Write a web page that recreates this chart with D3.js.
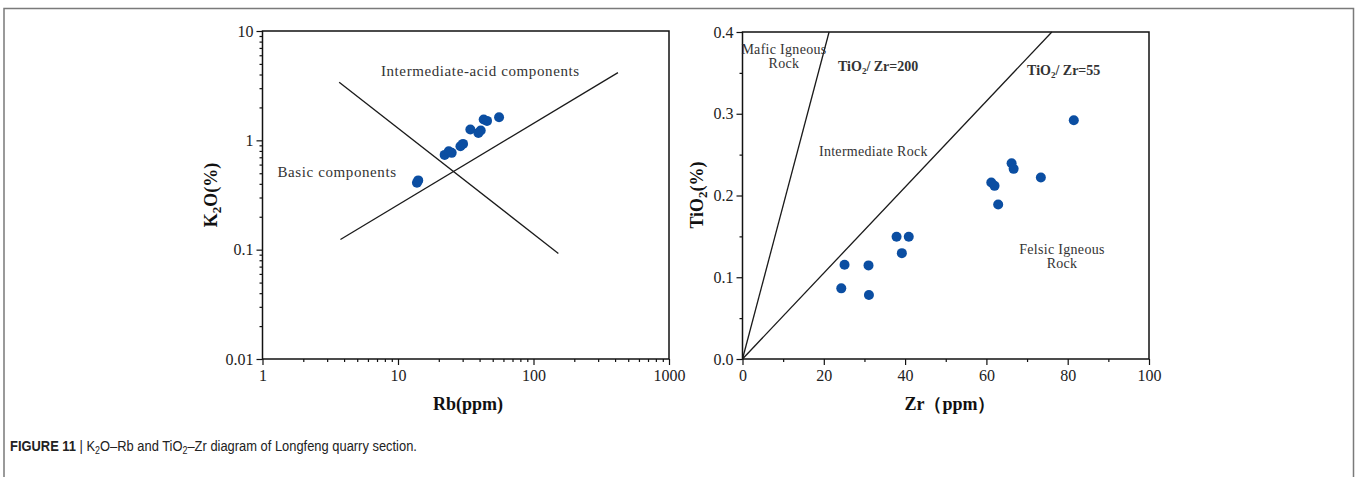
<!DOCTYPE html>
<html>
<head>
<meta charset="utf-8">
<script src="https://cdn.jsdelivr.net/npm/d3@7"></script>
<style>
  body { margin: 0; background: #fff; }
  svg { display: block; }
  .tick text { font-family: "Liberation Serif", serif; font-size: 16px; fill: #222; }
  .tick line { stroke: #111; stroke-width: 1.2; }
  .note { font-family: "Liberation Serif", serif; fill: #333; }
  .atitle { font-family: "Liberation Serif", serif; font-weight: bold; font-size: 18px; fill: #111; }
</style>
</head>
<body>
<svg id="fig" width="1355" height="477"></svg>
<script>
// K2O - Rb (left panel)
var rbValues  = [13.8, 14.1, 22.1, 23.7, 24.9, 28.9, 30.2, 34.2, 39.2, 40.8, 42.9, 45.4, 55.7]
var k2oValues = [0.41, 0.43, 0.736, 0.795, 0.768, 0.883, 0.928, 1.254, 1.17, 1.228, 1.55, 1.506, 1.627]
// discrimination lines, endpoints
var rbLineA = [[3.68, 3.40], [152.6, 0.0923]]
var rbLineB = [[3.76, 0.124], [420, 4.16]]
var rbTicks  = [1, 10, 100, 1000]
var k2oTicks = [0.01, 0.1, 1, 10]

// TiO2 - Zr (right panel)
var zrValues   = [81.5, 66.2, 66.7, 73.4, 61.2, 62.0, 62.9, 37.9, 40.9, 39.2, 25.1, 31.0, 24.3, 31.1]
var tio2Values = [0.292, 0.2395, 0.2326, 0.222, 0.216, 0.2118, 0.189, 0.1495, 0.1495, 0.1295, 0.1153, 0.1145, 0.0864, 0.0782]
var zrLine200 = [[0, 0], [21.3, 0.4]]
var zrLine55  = [[0, 0], [76.1, 0.4]]
var zrTicks   = [0, 20, 40, 60, 80, 100]
var tio2Ticks = [0.0, 0.1, 0.2, 0.3, 0.4]

const dotColor = "#0b4ea2"
const svg = d3.select("#fig")

// outer figure frame (open at the bottom)
svg.append("path")
    .attr("d", "M4,477 V8.5 H1353.5 V477")
    .attr("fill", "none")
    .attr("stroke", "#7a7a7a")
    .attr("stroke-width", 1.5)

// ---------- left panel ----------
const x1 = d3.scaleLog().domain([1, 1000]).range([262.5, 669])
const y1 = d3.scaleLog().domain([0.01, 10]).range([359, 31])

// minor log ticks 2..9 per decade
var minorRb = [], minorK = []
rbTicks.slice(0, -1).forEach(t => { for (var i = 2; i < 10; i++) minorRb.push(t * i) })
k2oTicks.slice(0, -1).forEach(t => { for (var i = 2; i < 10; i++) minorK.push(t * i) })

var g1 = svg.append("g")
g1.append("g").attr("transform", "translate(0,359)")
    .call(d3.axisBottom(x1).tickValues(minorRb).tickSize(3).tickFormat(""))
g1.append("g").attr("transform", "translate(0,359)")
    .call(d3.axisBottom(x1).tickValues(rbTicks).tickSize(6).tickPadding(5).tickFormat(d3.format("d")))
g1.append("g").attr("transform", "translate(262.5,0)")
    .call(d3.axisLeft(y1).tickValues(minorK).tickSize(3).tickFormat(""))
g1.append("g").attr("transform", "translate(262.5,0)")
    .call(d3.axisLeft(y1).tickValues(k2oTicks).tickSize(6).tickPadding(3).tickFormat(d => d >= 1 ? d3.format("d")(d) : String(d)))
g1.selectAll(".domain").remove()

g1.append("rect")
    .attr("x", x1(1)).attr("y", y1(10))
    .attr("width", x1(1000) - x1(1)).attr("height", y1(0.01) - y1(10))
    .attr("fill", "none").attr("stroke", "#111").attr("stroke-width", 1.5)

const line1 = d3.line().x(d => x1(d[0])).y(d => y1(d[1]))
;[rbLineA, rbLineB].forEach(l => {
    g1.append("path").attr("d", line1(l))
        .attr("fill", "none").attr("stroke", "#1a1a1a").attr("stroke-width", 1.3)
})

g1.selectAll("circle").data(rbValues).join("circle")
    .attr("cx", d => x1(d))
    .attr("cy", (d, i) => y1(k2oValues[i]))
    .attr("r", 5)
    .attr("fill", dotColor)

g1.append("text").attr("class", "note")
    .attr("x", x1(7.48)).attr("y", y1(3.9))
    .attr("font-size", 15).attr("letter-spacing", 0.6)
    .text("Intermediate-acid components")
g1.append("text").attr("class", "note")
    .attr("x", x1(1.29)).attr("y", y1(0.46))
    .attr("font-size", 15).attr("letter-spacing", 0.6)
    .text("Basic components")

g1.append("text").attr("class", "atitle")
    .attr("x", 468).attr("y", 410).attr("text-anchor", "middle")
    .text("Rb(ppm)")
var yt1 = g1.append("text").attr("class", "atitle")
    .attr("transform", "translate(217,195) rotate(-90)")
    .attr("text-anchor", "middle")
yt1.append("tspan").text("K")
yt1.append("tspan").attr("font-size", 13).attr("dy", 4).text("2")
yt1.append("tspan").attr("dy", -4).text("O(%)")

// ---------- right panel ----------
const x2 = d3.scaleLinear().domain([0, 100]).range([742.5, 1149])
const y2 = d3.scaleLinear().domain([0, 0.4]).range([359, 32])

var g2 = svg.append("g")
g2.append("g").attr("transform", "translate(0,359)")
    .call(d3.axisBottom(x2).tickValues(d3.range(10, 100, 20)).tickSize(3).tickFormat(""))
g2.append("g").attr("transform", "translate(0,359)")
    .call(d3.axisBottom(x2).tickValues(zrTicks).tickSize(6).tickPadding(5))
g2.append("g").attr("transform", "translate(742.5,0)")
    .call(d3.axisLeft(y2).tickValues([0.05, 0.15, 0.25, 0.35]).tickSize(3).tickFormat(""))
g2.append("g").attr("transform", "translate(742.5,0)")
    .call(d3.axisLeft(y2).tickValues(tio2Ticks).tickSize(6).tickPadding(3).tickFormat(d3.format(".1f")))
g2.selectAll(".domain").remove()

g2.append("rect")
    .attr("x", x2(0)).attr("y", y2(0.4))
    .attr("width", x2(100) - x2(0)).attr("height", y2(0) - y2(0.4))
    .attr("fill", "none").attr("stroke", "#111").attr("stroke-width", 1.5)

const line2 = d3.line().x(d => x2(d[0])).y(d => y2(d[1]))
;[zrLine200, zrLine55].forEach(l => {
    g2.append("path").attr("d", line2(l))
        .attr("fill", "none").attr("stroke", "#1a1a1a").attr("stroke-width", 1.3)
})

g2.selectAll("circle").data(zrValues).join("circle")
    .attr("cx", d => x2(d))
    .attr("cy", (d, i) => y2(tio2Values[i]))
    .attr("r", 5)
    .attr("fill", dotColor)

// region labels
function note(x, y, txt, anchor) {
    return g2.append("text").attr("class", "note")
        .attr("x", x2(x)).attr("y", y2(y))
        .attr("font-size", 14).attr("letter-spacing", 0.3)
        .attr("text-anchor", anchor || "start")
        .text(txt)
}
note(10.2, 0.373, "Mafic Igneous", "middle")
note(10.2, 0.356, "Rock", "middle")
note(18.8, 0.248, "Intermediate Rock")
note(78.6, 0.129, "Felsic Igneous", "middle")
note(78.6, 0.1116, "Rock", "middle")

function ratioLabel(x, y, val) {
    var t = g2.append("text").attr("class", "note")
        .attr("x", x2(x)).attr("y", y2(y))
        .attr("font-size", 14).attr("font-weight", "bold").attr("fill", "#222")
    t.append("tspan").text("TiO")
    t.append("tspan").attr("font-size", 9).attr("dy", 3).text("2")
    t.append("tspan").attr("dy", -3).text("/ Zr=" + val)
}
ratioLabel(23.5, 0.352, 200)
ratioLabel(70.0, 0.347, 55)

g2.append("text").attr("class", "atitle")
    .attr("x", 950).attr("y", 410).attr("text-anchor", "middle")
    .text("Zr（ppm）")
var yt2 = g2.append("text").attr("class", "atitle")
    .attr("transform", "translate(703,195) rotate(-90)")
    .attr("text-anchor", "middle")
yt2.append("tspan").text("TiO")
yt2.append("tspan").attr("font-size", 13).attr("dy", 4).text("2")
yt2.append("tspan").attr("dy", -4).text("(%)")

// caption (narrow sans in the original, so squeeze it horizontally)
var cap = svg.append("text")
    .attr("transform", "translate(10,451) scale(0.89,1)")
    .attr("font-family", "'Liberation Sans', Arial, sans-serif")
    .attr("font-size", 14.5).attr("fill", "#222")
cap.append("tspan").attr("font-weight", "bold").text("FIGURE 11")
cap.append("tspan").text(" | K")
cap.append("tspan").attr("font-size", 10).attr("dy", 3).text("2")
cap.append("tspan").attr("dy", -3).text("O–Rb and TiO")
cap.append("tspan").attr("font-size", 10).attr("dy", 3).text("2")
cap.append("tspan").attr("dy", -3).text("–Zr diagram of Longfeng quarry section.")
</script>
</body>
</html>
